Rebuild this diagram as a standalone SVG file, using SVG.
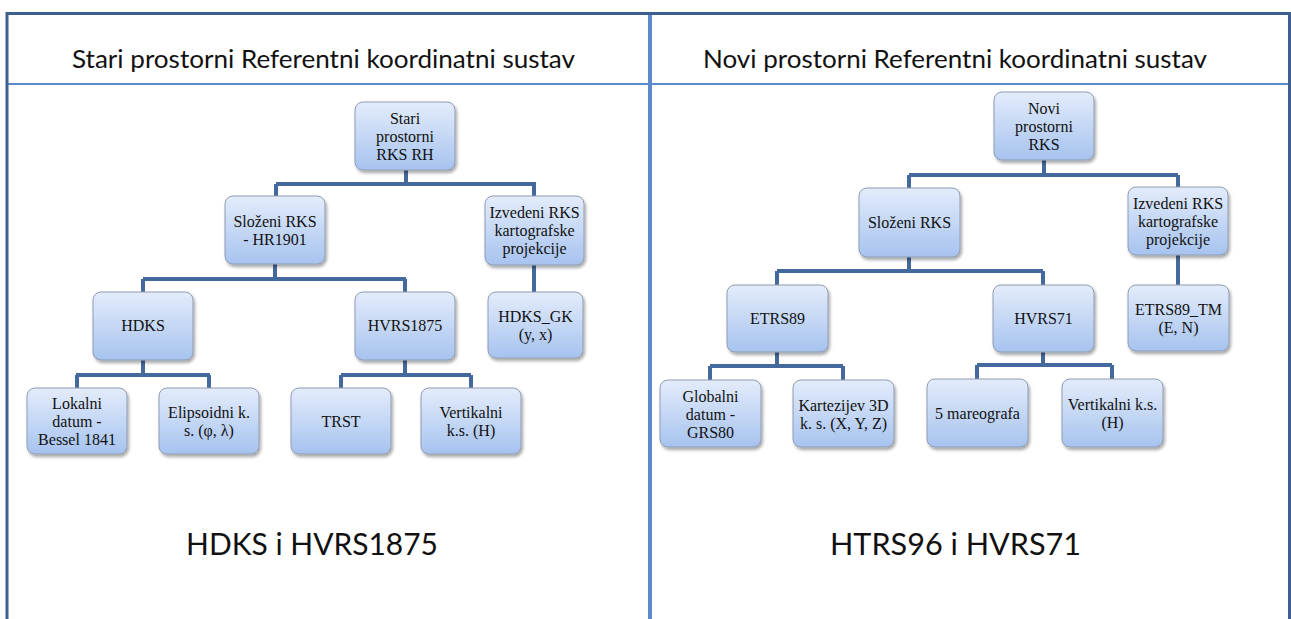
<svg xmlns="http://www.w3.org/2000/svg" width="1291" height="619" viewBox="0 0 1291 619">
<style>
.frame{stroke:#3d6090;stroke-width:3;fill:none}
.div{stroke:#5a8acb;fill:none}
.box{fill:url(#g);stroke:#8e9cb2;stroke-width:1;filter:url(#sh)}
.t{font-family:"Liberation Serif","Times New Roman",serif;font-size:16px;fill:#111;text-anchor:middle}
.h{font-family:Lato,"Liberation Sans",sans-serif;font-size:25px;fill:#111}
.b{font-family:Lato,"Liberation Sans",sans-serif;font-size:31px;fill:#111}
.c{stroke:#44699c;stroke-width:4;fill:none;stroke-linecap:butt}
</style>
<defs>
<linearGradient id="g" x1="0" y1="0" x2="0" y2="1">
<stop offset="0" stop-color="#e4ecfb"/>
<stop offset="1" stop-color="#a6c3ef"/>
</linearGradient>
<filter id="sh" x="-10%" y="-10%" width="125%" height="130%">
<feDropShadow dx="1.5" dy="2.5" stdDeviation="1.5" flood-color="#000" flood-opacity="0.35"/>
</filter>
</defs>
<rect width="1291" height="619" fill="#fff"/>
<g id="frame">
<path class="div" stroke-width="2" d="M8,84 H1289"/>
<path class="div" stroke-width="4" d="M650,13 V619"/>
<path class="frame" d="M7,619 V13.5 H1289.5 V619"/>
</g>
<g id="headers">
<text class="h" x="72" y="68" textLength="503" lengthAdjust="spacingAndGlyphs">Stari prostorni Referentni koordinatni sustav</text>
<text class="h" x="703" y="68" textLength="504" lengthAdjust="spacingAndGlyphs">Novi prostorni Referentni koordinatni sustav</text>
<text class="b" x="186" y="555" textLength="252" lengthAdjust="spacingAndGlyphs">HDKS i HVRS1875</text>
<text class="b" x="830" y="555" textLength="251" lengthAdjust="spacingAndGlyphs">HTRS96 i HVRS71</text>
</g>
<g id="connectors">
<path class="c" d="M406,169 V184 M276,184 H536 M276,184 V196 M534,184 V196"/>
<path class="c" d="M275,264 V279 M143,279 H406 M143,279 V292 M405,279 V292 M534,265 V292"/>
<path class="c" d="M143,360 V375 M76,375 H210 M77,375 V388 M209,375 V388"/>
<path class="c" d="M405,360 V375 M341,375 H471 M341,375 V388 M471,375 V388"/>
<path class="c" d="M1044,160 V175 M909,175 H1178 M909,175 V188 M1178,175 V187"/>
<path class="c" d="M909,257 V271 M777,271 H1043 M777,271 V285 M1043,271 V285 M1178,255 V285"/>
<path class="c" d="M777,352 V366 M710,366 H843 M710,366 V380 M843,366 V380"/>
<path class="c" d="M1043,352 V365 M977,365 H1112 M977,365 V379 M1112,365 V379"/>
</g>
<g id="n-root-old"><rect class="box" x="355" y="102" width="100" height="68" rx="8"/><text class="t" x="405" y="124">Stari</text><text class="t" x="405" y="142">prostorni</text><text class="t" x="405" y="160">RKS RH</text></g>
<g id="n-slozeni-old"><rect class="box" x="225" y="196" width="100" height="68" rx="8"/><text class="t" x="275" y="227">Složeni RKS</text><text class="t" x="275" y="245">- HR1901</text></g>
<g id="n-izvedeni-old"><rect class="box" x="485" y="196" width="99" height="69" rx="8"/><text class="t" x="534.5" y="218">Izvedeni RKS</text><text class="t" x="534.5" y="236">kartografske</text><text class="t" x="534.5" y="254">projekcije</text></g>
<g id="n-hdks"><rect class="box" x="93" y="292" width="100" height="68" rx="8"/><text class="t" x="143" y="331">HDKS</text></g>
<g id="n-hvrs1875"><rect class="box" x="355" y="292" width="100" height="68" rx="8"/><text class="t" x="405" y="331">HVRS1875</text></g>
<g id="n-hdksgk"><rect class="box" x="488" y="292" width="95" height="66" rx="8"/><text class="t" x="535.5" y="322">HDKS_GK</text><text class="t" x="535.5" y="340">(y, x)</text></g>
<g id="n-lokalni"><rect class="box" x="27" y="388" width="100" height="66" rx="8"/><text class="t" x="77" y="409">Lokalni</text><text class="t" x="77" y="427">datum -</text><text class="t" x="77" y="445">Bessel 1841</text></g>
<g id="n-elipsoidni"><rect class="box" x="159" y="388" width="100" height="66" rx="8"/><text class="t" x="209" y="418">Elipsoidni k.</text><text class="t" x="209" y="436">s. (φ, λ)</text></g>
<g id="n-trst"><rect class="box" x="291" y="388" width="100" height="66" rx="8"/><text class="t" x="341" y="427">TRST</text></g>
<g id="n-vertikalni-old"><rect class="box" x="421" y="388" width="100" height="66" rx="8"/><text class="t" x="471" y="418">Vertikalni</text><text class="t" x="471" y="436">k.s. (H)</text></g>
<g id="n-root-new"><rect class="box" x="994" y="92" width="100" height="68" rx="8"/><text class="t" x="1044" y="114">Novi</text><text class="t" x="1044" y="132">prostorni</text><text class="t" x="1044" y="150">RKS</text></g>
<g id="n-slozeni-new"><rect class="box" x="859" y="188" width="101" height="69" rx="8"/><text class="t" x="909.5" y="228">Složeni RKS</text></g>
<g id="n-izvedeni-new"><rect class="box" x="1128" y="187" width="100" height="68" rx="8"/><text class="t" x="1178" y="209">Izvedeni RKS</text><text class="t" x="1178" y="227">kartografske</text><text class="t" x="1178" y="245">projekcije</text></g>
<g id="n-etrs89"><rect class="box" x="727" y="285" width="101" height="67" rx="8"/><text class="t" x="777.5" y="324">ETRS89</text></g>
<g id="n-hvrs71"><rect class="box" x="993" y="285" width="101" height="67" rx="8"/><text class="t" x="1043.5" y="324">HVRS71</text></g>
<g id="n-etrs89tm"><rect class="box" x="1128" y="285" width="101" height="66" rx="8"/><text class="t" x="1178.5" y="315">ETRS89_TM</text><text class="t" x="1178.5" y="333">(E, N)</text></g>
<g id="n-globalni"><rect class="box" x="660" y="380" width="101" height="67" rx="8"/><text class="t" x="710.5" y="402">Globalni</text><text class="t" x="710.5" y="420">datum -</text><text class="t" x="710.5" y="438">GRS80</text></g>
<g id="n-kartezijev"><rect class="box" x="793" y="380" width="101" height="67" rx="8"/><text class="t" x="843.5" y="411">Kartezijev 3D</text><text class="t" x="843.5" y="429">k. s. (X, Y, Z)</text></g>
<g id="n-mareografa"><rect class="box" x="927" y="379" width="101" height="68" rx="8"/><text class="t" x="977.5" y="419">5 mareografa</text></g>
<g id="n-vertikalni-new"><rect class="box" x="1062" y="379" width="101" height="68" rx="8"/><text class="t" x="1112.5" y="410">Vertikalni k.s.</text><text class="t" x="1112.5" y="428">(H)</text></g>
</svg>
